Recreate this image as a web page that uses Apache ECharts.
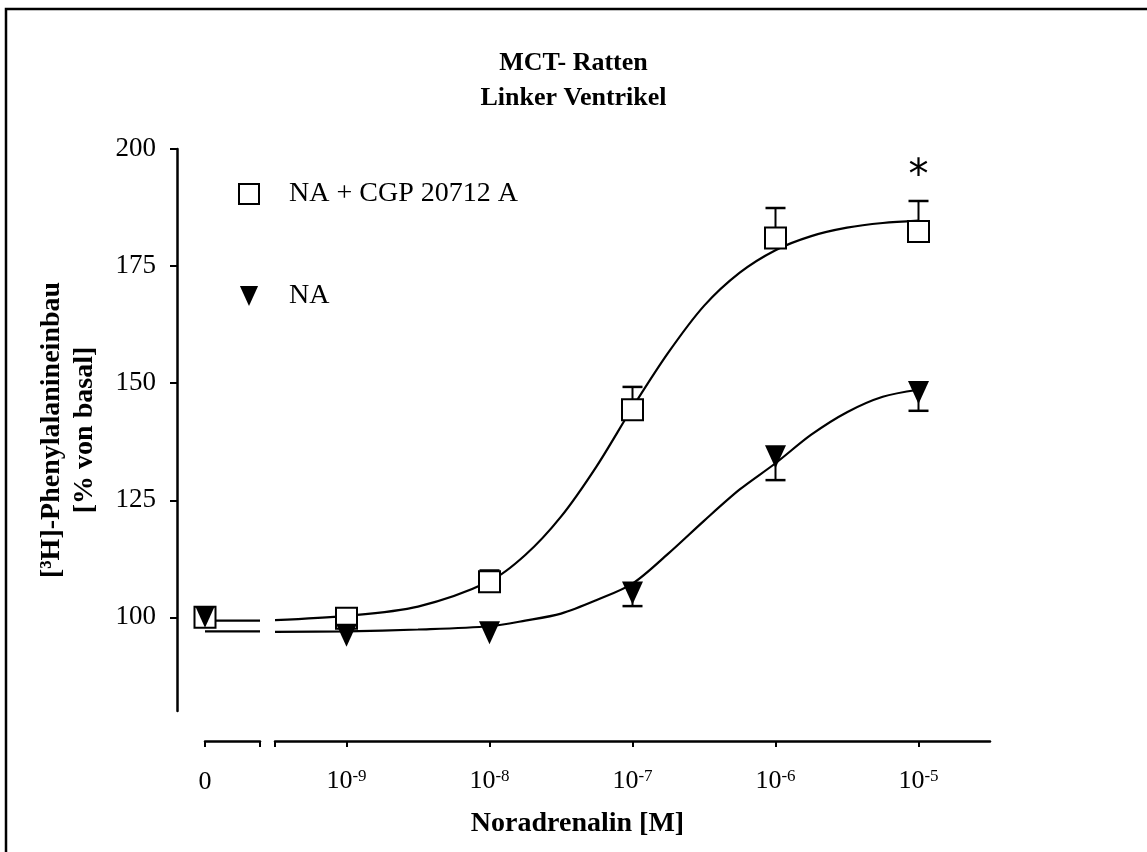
<!DOCTYPE html>
<html>
<head>
<meta charset="utf-8">
<script src="https://cdn.jsdelivr.net/npm/echarts@6/dist/echarts.min.js"></script>
<style>
  html, body { margin: 0; padding: 0; background: #fff; }
  #chart { width: 1147px; height: 852px; }
</style>
</head>
<body>
<div id="chart"></div>
<script>
// x positions are log10 of the concentration; "0" (basal) is drawn at -10
const zeroPos = -10
const decades = [-9, -8, -7, -6, -5]
const yTicks = [100, 125, 150, 175, 200]

// NA + CGP 20712 A (open squares), error bars upward
const cgpBasal = 100
const cgpMean = [99.8, 107.6, 144.3, 181.0, 182.4]
const cgpErrUp = [0, 2.4, 4.9, 6.4, 6.5]

// NA (filled triangles), error bars downward
const naBasal = 100
const naMean = [96.2, 96.7, 105.2, 134.3, 148.0]
const naErrDown = [0, 0, 2.8, 5.0, 3.9]

// fitted curves
const fitLeftCgp = 99.3
const fitLeftNa = 97.0
const fitX = [-9.5, -9, -8.5, -8, -7.75, -7.5, -7.25, -7, -6.75, -6.5, -6.25, -6, -5.75, -5.5, -5.25, -5]
const cgpFit = [99.4, 100.3, 102.3, 107.7, 113.3, 121.5, 132.3, 144.8, 156.5, 166.5, 173.6, 178.4, 181.4, 183.2, 184.2, 184.7]
const naFit = [96.9, 97.0, 97.4, 98.1, 99.3, 100.8, 103.7, 107.2, 113.6, 120.6, 127.3, 132.9, 139.0, 143.8, 147.1, 148.6]

const serif = 'Liberation Serif'
const triangleDown = 'path://M0,0L20,0L10,22Z'

const errorBars = (params, api) => {
  const x = api.value(0)
  const p1 = api.coord([x, api.value(1)])
  const p2 = api.coord([x, api.value(2)])
  return {
    type: 'group',
    children: [
      { type: 'line', shape: { x1: p1[0], y1: p1[1], x2: p2[0], y2: p2[1] }, style: { stroke: '#000', lineWidth: 2 } },
      { type: 'line', shape: { x1: p2[0] - 10, y1: p2[1], x2: p2[0] + 10, y2: p2[1] }, style: { stroke: '#000', lineWidth: 2.5 } },
    ],
  }
}

const leftMax = -9.615

const option = {
  backgroundColor: '#fff',
  animation: false,
  textStyle: { fontFamily: serif, color: '#000' },
  title: {
    text: 'MCT- Ratten\nLinker Ventrikel',
    left: 'center',
    top: 41,
    textStyle: { fontFamily: serif, fontWeight: 'bold', fontSize: 26, lineHeight: 35, color: '#000' },
  },
  legend: {
    orient: 'vertical',
    left: 233,
    top: 175,
    itemWidth: 20,
    itemHeight: 20,
    itemGap: 74,
    selectedMode: false,
    textStyle: { fontFamily: serif, fontSize: 28, color: '#000', padding: [0, 0, 0, 25] },
    data: [
      { name: 'NA + CGP 20712 A', icon: 'rect', itemStyle: { color: '#fff', borderColor: '#000', borderWidth: 2 } },
      { name: 'NA', icon: triangleDown, itemStyle: { color: '#000', borderWidth: 0 } },
    ],
  },
  graphic: [
    { type: 'rect', shape: { x: 6, y: 9, width: 1300, height: 1000 }, style: { fill: 'none', stroke: '#000', lineWidth: 2.5 } },
  ],
  grid: [
    { left: 205, width: 55, top: 149, height: 562 },
    { left: 275, width: 715, top: 149, height: 562 },
  ],
  xAxis: [
    {
      gridIndex: 0, type: 'value', min: zeroPos, max: leftMax, offset: 30,
      axisLine: { lineStyle: { color: '#000', width: 2.5 } },
      axisTick: { show: true, length: 6, lineStyle: { width: 2 }, customValues: [zeroPos, leftMax] },
      axisLabel: { customValues: [zeroPos], formatter: () => '0', fontSize: 26, color: '#000', fontFamily: serif, margin: 28 },
      splitLine: { show: false },
    },
    {
      gridIndex: 1, type: 'value', min: -9.5, max: -4.5, offset: 30,
      name: 'Noradrenalin [M]',
      nameLocation: 'middle',
      nameGap: 69,
      nameTextStyle: { fontFamily: serif, fontWeight: 'bold', fontSize: 28, color: '#000', padding: [0, 110, 0, 0] },
      axisLine: { lineStyle: { color: '#000', width: 2.5 } },
      axisTick: { show: true, length: 6, lineStyle: { width: 2 }, customValues: [-9.5].concat(decades) },
      axisLabel: {
        customValues: decades,
        formatter: v => '10{sup|' + v + '}',
        fontSize: 26, color: '#000', fontFamily: serif, margin: 27,
        rich: {
          sup: { fontSize: 17, fontFamily: serif, color: '#000', verticalAlign: 'top', lineHeight: 18 },
        },
      },
      splitLine: { show: false },
    },
  ],
  yAxis: [
    {
      gridIndex: 0, type: 'value', min: 80, max: 200, offset: 28,
      name: '[³H]-Phenylalanineinbau\n[% von basal]',
      nameLocation: 'middle',
      nameGap: 76,
      nameTextStyle: { fontFamily: serif, fontWeight: 'bold', fontSize: 28, lineHeight: 33, color: '#000' },
      axisLine: { show: true, lineStyle: { color: '#000', width: 2.5 } },
      axisTick: { show: true, length: 7, lineStyle: { width: 2 }, customValues: yTicks },
      axisLabel: { customValues: yTicks, fontSize: 27, color: '#000', fontFamily: serif, margin: 21 },
      splitLine: { show: false },
    },
    { gridIndex: 1, type: 'value', min: 80, max: 200, show: false, splitLine: { show: false } },
  ],
  series: [
    // left part (basal)
    {
      type: 'line', xAxisIndex: 0, yAxisIndex: 0, symbol: 'none', silent: true,
      lineStyle: { color: '#000', width: 2.2 }, z: 2,
      data: [[zeroPos, fitLeftCgp], [leftMax, fitLeftCgp]],
    },
    {
      type: 'line', xAxisIndex: 0, yAxisIndex: 0, symbol: 'none', silent: true,
      lineStyle: { color: '#000', width: 2.2 }, z: 2,
      data: [[zeroPos, fitLeftNa], [leftMax, fitLeftNa]],
    },
    {
      name: 'NA + CGP 20712 A', type: 'scatter', xAxisIndex: 0, yAxisIndex: 0,
      symbol: 'rect', symbolSize: 21, z: 4,
      itemStyle: { color: '#fff', borderColor: '#000', borderWidth: 2, opacity: 1 },
      data: [[zeroPos, cgpBasal]],
    },
    {
      name: 'NA', type: 'scatter', xAxisIndex: 0, yAxisIndex: 0,
      symbol: triangleDown, symbolSize: [19, 21], z: 5,
      itemStyle: { color: '#000', opacity: 1 },
      data: [[zeroPos, naBasal]],
    },
    // right part (concentrations)
    {
      type: 'line', xAxisIndex: 1, yAxisIndex: 1, symbol: 'none', smooth: 0.3, silent: true,
      lineStyle: { color: '#000', width: 2.2 }, z: 2,
      data: fitX.map((x, i) => [x, cgpFit[i]]),
    },
    {
      type: 'line', xAxisIndex: 1, yAxisIndex: 1, symbol: 'none', smooth: 0.3, silent: true,
      lineStyle: { color: '#000', width: 2.2 }, z: 2,
      data: fitX.map((x, i) => [x, naFit[i]]),
    },
    {
      type: 'custom', xAxisIndex: 1, yAxisIndex: 1, renderItem: errorBars, z: 3, silent: true,
      data: decades.map((x, i) => [x, cgpMean[i], cgpMean[i] + cgpErrUp[i]]).filter((d, i) => cgpErrUp[i] > 0),
    },
    {
      type: 'custom', xAxisIndex: 1, yAxisIndex: 1, renderItem: errorBars, z: 3, silent: true,
      data: decades.map((x, i) => [x, naMean[i], naMean[i] - naErrDown[i]]).filter((d, i) => naErrDown[i] > 0),
    },
    {
      name: 'NA + CGP 20712 A', type: 'scatter', xAxisIndex: 1, yAxisIndex: 1,
      symbol: 'rect', symbolSize: 21, z: 4,
      itemStyle: { color: '#fff', borderColor: '#000', borderWidth: 2, opacity: 1 },
      data: decades.map((x, i) => [x, cgpMean[i]]),
      markPoint: {
        symbol: 'rect', symbolSize: 1, itemStyle: { color: 'transparent' },
        label: { show: true, formatter: '*', fontSize: 40, fontFamily: 'DejaVu Sans', color: '#000', position: 'inside' },
        data: [{ coord: [-5, 193.8] }],
      },
    },
    {
      name: 'NA', type: 'scatter', xAxisIndex: 1, yAxisIndex: 1,
      symbol: triangleDown, symbolSize: [21, 23], z: 5,
      itemStyle: { color: '#000', opacity: 1 },
      data: decades.map((x, i) => [x, naMean[i]]),
    },
  ],
}

const chart = echarts.init(document.getElementById('chart'))
chart.setOption(option)
</script>
</body>
</html>
